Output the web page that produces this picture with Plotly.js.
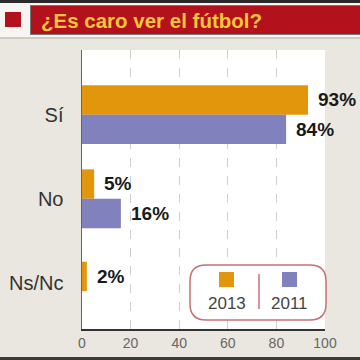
<!DOCTYPE html>
<html><head><meta charset="utf-8">
<script src="https://cdn.plot.ly/plotly-3.0.1.min.js"></script>
<style>html,body{margin:0;padding:0;background:#e9e7df}#c{width:360px;height:360px}</style>
</head><body><div id="c"></div>
<script>
const titleText = "¿Es caro ver el fútbol?";
const categories = ["Sí", "No", "Ns/Nc"];
const seriesNames = ["2013", "2011"];
const values2013 = [93, 5, 2];
const values2011 = [84, 16, null];
const xTicks = [0, 20, 40, 60, 80, 100];

const colors = ["#e1960c", "#8181be"];
const W = 360, H = 360;
const M = {l: 82, r: 35, t: 50, b: 31};
const pw = W - M.l - M.r, ph = H - M.t - M.b;
const px = x => (x - M.l) / pw;
const py = y => (H - M.b - y) / ph;
const bw = 0.35;

const traces = [
  {type: "bar", orientation: "h", name: seriesNames[0], y: categories, x: values2013,
   marker: {color: colors[0]}, width: bw, offset: [-bw, -bw, -0.25], hoverinfo: "none"},
  {type: "bar", orientation: "h", name: seriesNames[1], y: categories, x: values2011,
   marker: {color: colors[1]}, width: bw, offset: 0, hoverinfo: "none"}
];

const annotations = [];
const labelFont = {family: "Liberation Sans, Arial, sans-serif", size: 19, color: "#1a1a1a", weight: 700};
categories.forEach((c, i) => {
  if (values2013[i] != null) annotations.push({x: values2013[i], y: c, xref: "x", yref: "y",
    text: "<b>" + values2013[i] + "%</b>", showarrow: false, xanchor: "left", yanchor: "middle",
    xshift: 8, yshift: i === 2 ? 6 : 15, font: labelFont});
  if (values2011[i] != null) annotations.push({x: values2011[i], y: c, xref: "x", yref: "y",
    text: "<b>" + values2011[i] + "%</b>", showarrow: false, xanchor: "left", yanchor: "middle",
    xshift: 8, yshift: -15, font: labelFont});
});

// title
annotations.push({text: "<b>" + titleText + "</b>", xref: "paper", yref: "paper", x: px(39), y: py(20),
  xanchor: "left", yanchor: "middle", showarrow: false,
  font: {family: "Liberation Sans, Arial, sans-serif", size: 20.5, color: "#f5c53e"}});

// legend texts
const legendCenters = [226.5, 289.5];
seriesNames.forEach((n, i) => {
  annotations.push({text: n, xref: "paper", yref: "paper", x: px(legendCenters[i]), y: py(303),
    xanchor: "center", yanchor: "middle", showarrow: false,
    font: {family: "Liberation Sans, Arial, sans-serif", size: 17, color: "#444"}});
});

function rr(x0, y0, x1, y1, r) {
  const X = v => px(v), Y = v => py(v);
  return `M ${X(x0 + r)} ${Y(y0)} L ${X(x1 - r)} ${Y(y0)} Q ${X(x1)} ${Y(y0)} ${X(x1)} ${Y(y0 + r)} ` +
    `L ${X(x1)} ${Y(y1 - r)} Q ${X(x1)} ${Y(y1)} ${X(x1 - r)} ${Y(y1)} L ${X(x0 + r)} ${Y(y1)} ` +
    `Q ${X(x0)} ${Y(y1)} ${X(x0)} ${Y(y1 - r)} L ${X(x0)} ${Y(y0 + r)} Q ${X(x0)} ${Y(y0)} ${X(x0 + r)} ${Y(y0)} Z`;
}
const rect = (x0, y0, x1, y1, fill, layer) => ({type: "rect", xref: "paper", yref: "paper",
  x0: px(x0), x1: px(x1), y0: py(y1), y1: py(y0), fillcolor: fill, line: {width: 0}, layer: layer || "above"});

const shapes = [
  rect(0, 0, 360, 37, "#f6f5f1", "below"),
  rect(0, 0, 360, 3, "#2a2a2a", "below"),
  rect(30, 5, 360, 35, "#777", "below"),
  rect(31, 6, 360, 34, "#b3121c", "below"),
  rect(5, 12, 21, 27, "#b3121c", "below"),
  rect(0, 37, 360, 39, "#cfccc2", "below"),
  rect(0, 357, 360, 360, "#3a3a3a", "below"),
  {type: "path", xref: "paper", yref: "paper", path: rr(190, 265, 326, 320, 16),
   fillcolor: "#ffffff", line: {color: "#c47272", width: 1.5}, layer: "above"},
  rect(219, 272, 234, 287, colors[0]),
  rect(282, 272, 297, 287, colors[1]),
  {type: "line", xref: "paper", yref: "paper", x0: px(259), x1: px(259), y0: py(274), y1: py(309),
   line: {color: "#c47272", width: 1.5}}
];

const layout = {
  width: W, height: H, margin: M,
  paper_bgcolor: "#e9e7df", plot_bgcolor: "#ffffff",
  barmode: "overlay", showlegend: false,
  font: {family: "Liberation Sans, Arial, sans-serif"},
  xaxis: {range: [0, 100], tickvals: xTicks, ticktext: xTicks.map(String), showgrid: true,
    gridcolor: "#cfcfcf", griddash: "dash", gridwidth: 1, zeroline: false,
    showline: true, linecolor: "#333", linewidth: 2, ticks: "",
    tickfont: {size: 14, color: "#666"}, fixedrange: true},
  yaxis: {type: "category", range: [2.55, -0.77], showgrid: false, zeroline: false,
    showline: true, linecolor: "#666", linewidth: 1.5, ticks: "outside", ticklen: 13,
    tickcolor: "rgba(0,0,0,0)", tickfont: {size: 20, color: "#333"}, fixedrange: true},
  annotations: annotations, shapes: shapes
};
Plotly.newPlot("c", traces, layout, {displayModeBar: false, staticPlot: true});
</script></body></html>
